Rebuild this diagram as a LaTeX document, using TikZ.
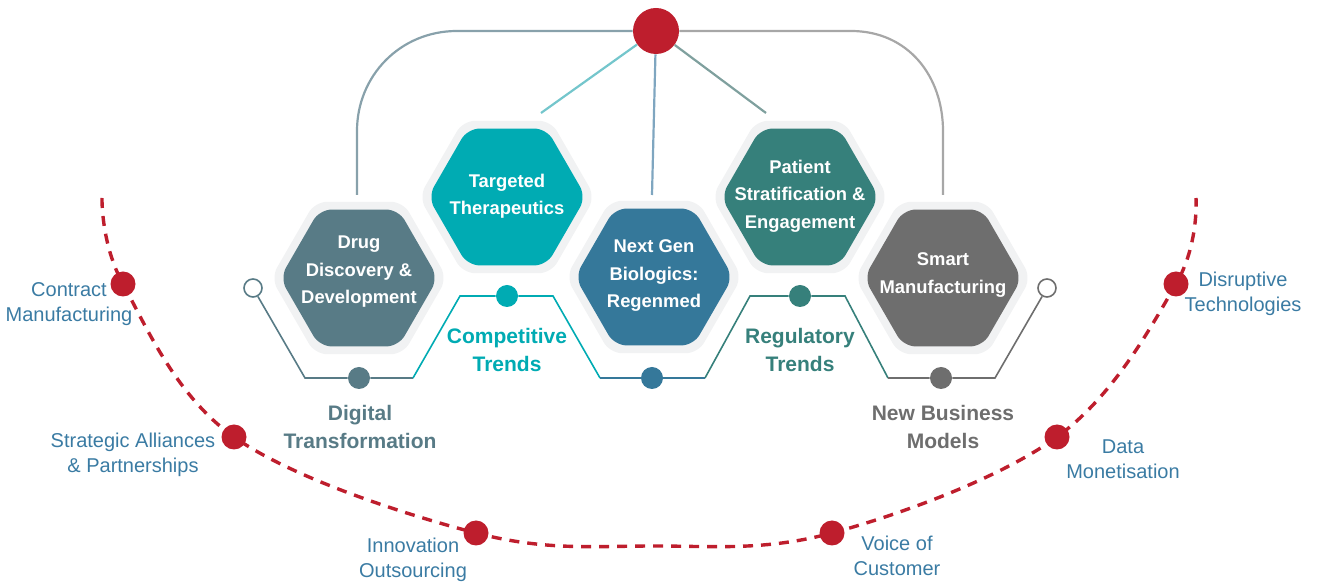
\documentclass[tikz,border=0pt]{standalone}
\usepackage{fontspec}
\setmainfont{Liberation Sans}
\definecolor{cSlate}{HTML}{587B86}
\definecolor{cTurq}{HTML}{00ABB3}
\definecolor{cBlue}{HTML}{35789A}
\definecolor{cTeal}{HTML}{36807B}
\definecolor{cGray}{HTML}{6E6E6E}
\definecolor{cRed}{HTML}{BE1E2D}
\definecolor{cLbl}{HTML}{3A7BA3}
\definecolor{cHalo}{HTML}{F1F2F3}
\definecolor{cLineL}{HTML}{88A1AB}
\definecolor{cLineR}{HTML}{A7A7A7}
\definecolor{cDiagT}{HTML}{74C6CC}
\definecolor{cDiagB}{HTML}{7FA6C0}
\definecolor{cDiagG}{HTML}{7FA09E}
\newcommand{\hexshape}[3]{(#1,#2) ++(0:#3) -- ++(120:#3) -- ++(180:#3) -- ++(240:#3) -- ++(300:#3) -- ++(0:#3) -- cycle}
\begin{document}
\begin{tikzpicture}[x=0.5pt,y=-0.5pt,
  hextext/.style={text=white,font=\bfseries\fontsize{9.2}{13.75}\selectfont,align=center,inner sep=0pt},
  trendlbl/.style={font=\bfseries\fontsize{10.5}{14}\selectfont,align=center,inner sep=0pt},
  arclbl/.style={text=cLbl,font=\fontsize{10}{12.3}\selectfont,align=center,inner sep=0pt},
  reddot/.style={circle,fill=cRed,minimum size=12.5pt,inner sep=0pt},
  fdot/.style={circle,minimum size=11pt,inner sep=0pt},
  odot/.style={circle,fill=white,line width=0.8pt,minimum size=9pt,inner sep=0pt},
  zz/.style={line width=0.8pt},
  conn/.style={line width=1.1pt},
  reddash/.style={cRed,line width=1.7pt,dash pattern=on 5pt off 4pt}]
\useasboundingbox (0,0) rectangle (1319,582);
% red arc
\coordinate (a0) at (102,198);
\coordinate (p1) at (123,284);
\coordinate (p2) at (234,437);
\coordinate (p3) at (476,533);
\coordinate (pm) at (654,546);
\coordinate (p4) at (832,533);
\coordinate (p5) at (1057,437);
\coordinate (p6) at (1176,284);
\coordinate (a1) at (1196,198);
\draw[reddash] plot[smooth,tension=0.6] coordinates {(a0) (p1) (p2) (p3) (pm) (p4) (p5) (p6) (a1)};
\foreach \i in {1,...,6}{\node[reddot] (r\i) at (p\i) {};}
% arc labels
\node[arclbl] (l1) at (69,304) {Contract\\Manufacturing};
\node[arclbl] (l2) at (133,455) {Strategic Alliances\\\& Partnerships};
\node[arclbl] (l3) at (413,560) {Innovation\\Outsourcing};
\node[arclbl] (l4) at (897,556) {Voice of\\Customer};
\node[arclbl] (l5) at (1123,459) {Data\\Monetisation};
\node[arclbl] (l6) at (1243,294) {Disruptive\\Technologies};
% hexagons
\foreach \cx/\cy in {359/278,507/197,654/277,800/197,943/278}
  {\fill[cHalo,rounded corners=6pt] \hexshape{\cx}{\cy}{88};}
\foreach \cx/\cy/\col in {359/278/cSlate,507/197/cTurq,654/277/cBlue,800/197/cTeal,943/278/cGray}
  {\fill[\col,rounded corners=6pt] \hexshape{\cx}{\cy}{79};}
\node[hextext] (h1) at (359,272) {Drug\\Discovery \&\\Development};
\node[hextext] (h2) at (507,196) {Targeted\\Therapeutics};
\node[hextext] (h3) at (654,276) {Next Gen\\Biologics:\\Regenmed};
\node[hextext] (h4) at (800,196) {Patient\\Stratification \&\\Engagement};
\node[hextext] (h5) at (943,275) {Smart\\Manufacturing};
% top hub
\node[circle,fill=cRed,minimum size=23pt,inner sep=0pt] (top) at (656,31) {};
\coordinate (lc) at (357,195);
\coordinate (rc) at (943,195);
\coordinate (h2t) at (541,113);
\coordinate (h3t) at (652,195);
\coordinate (h4t) at (766,113);
\draw[conn,cLineL] (top.west) -- (457,31) .. controls (400,31) and (357,76) .. (357,131) -- (lc);
\draw[conn,cLineR] (top.east) -- (851,31) .. controls (908,31) and (943,76) .. (943,131) -- (rc);
\draw[conn,cDiagT] (top) -- (h2t);
\draw[conn,cDiagB] (top) -- (h3t);
\draw[conn,cDiagG] (top) -- (h4t);
% zigzag dots
\node[odot,draw=cSlate] (oL) at (253,288) {};
\node[odot,draw=cGray] (oR) at (1047,288) {};
\node[fdot,fill=cSlate] (f1) at (359,378) {};
\node[fdot,fill=cTurq] (f2) at (507,296) {};
\node[fdot,fill=cBlue] (f3) at (652,378) {};
\node[fdot,fill=cTeal] (f4) at (800,296) {};
\node[fdot,fill=cGray] (f5) at (941,378) {};
\draw[zz,cSlate] (oL) -- (305,378) -- (f1) -- (413,378);
\draw[zz,cTurq] (413,378) -- (460,296) -- (f2) -- (553,296) -- (600,378);
\draw[zz,cBlue] (600,378) -- (f3) -- (705,378);
\draw[zz,cTeal] (705,378) -- (750,296) -- (f4) -- (845,296) -- (888,378);
\draw[zz,cGray] (888,378) -- (f5) -- (995,378) -- (oR);
% trend labels
\node[trendlbl,text=cSlate] (t1) at (360,427) {Digital\\Transformation};
\node[trendlbl,text=cTurq] (t2) at (507,350) {Competitive\\Trends};
\node[trendlbl,text=cTeal] (t3) at (800,350) {Regulatory\\Trends};
\node[trendlbl,text=cGray] (t4) at (943,427) {New Business\\Models};
\end{tikzpicture}
\end{document}
